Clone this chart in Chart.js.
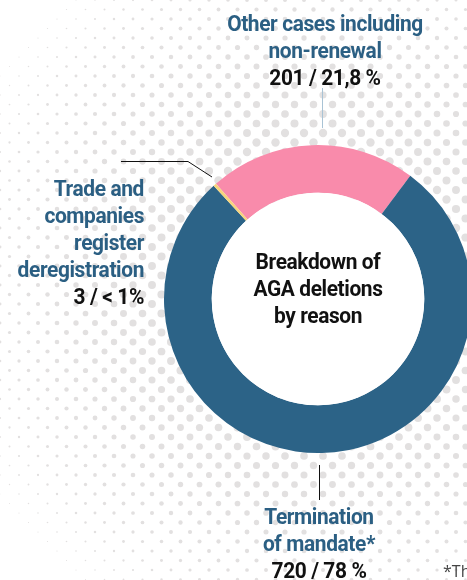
<!DOCTYPE html>
<html lang="en">
<head>
<meta charset="UTF-8">
<script src="https://cdn.jsdelivr.net/npm/chart.js@4.4.1/dist/chart.umd.min.js"></script>
<title>AGA deletions</title>
<style>
    body { margin:0; width:467px; height:580px; overflow:hidden; background:#fff; position:relative; }
    #wrap { position:absolute; left:0; top:0; width:480px; height:580px; }
    .lbl { position:absolute; font-family:Roboto,sans-serif; font-weight:bold; font-size:22px; line-height:27px; white-space:nowrap; letter-spacing:-0.4px; }
    .c { text-align:center; transform:scaleX(0.95); transform-origin:50% 0; }
    .r { text-align:right; transform:scaleX(0.95); transform-origin:100% 0; }
    .blue { color:#2b5f83; }
    .blk { color:#111; }
</style>
</head>
<body>
<div id="wrap"><canvas id="pie" width="480" height="580"></canvas></div>

<div class="lbl c" style="left:175px; top:10px; width:300px;">
    <div class="blue">Other cases including</div>
    <div class="blue">non-renewal</div>
    <div class="blk">201 / 21,8 %</div>
</div>

<div class="lbl r" style="left:0; top:175px; width:144px;">
    <div class="blue">Trade and</div>
    <div class="blue">companies</div>
    <div class="blue">register</div>
    <div class="blue">deregistration</div>
    <div class="blk">3 / &lt; 1%</div>
</div>

<div class="lbl c blk" style="left:168px; top:248px; width:300px;">
    <div>Breakdown of</div>
    <div>AGA deletions</div>
    <div>by reason</div>
</div>

<div class="lbl c" style="left:169px; top:503px; width:300px;">
    <div class="blue">Termination</div>
    <div class="blue">of mandate*</div>
    <div class="blk">720 / 78 %</div>
</div>

<div style="position:absolute; left:443px; top:560px; font-family:'Open Sans',sans-serif; font-size:16px; color:#444; white-space:nowrap;">*The</div>

<script>
var labels = ["Other cases including non-renewal", "Termination of mandate*", "Trade and companies register deregistration"];
var counts = [201, 720, 3];
var colors = ["#f98bab", "#2c6387", "#f6d47c"];

// halftone dots behind the ring, getting smaller away from it
var dotsPlugin = {
    id: 'dots',
    beforeDraw: function(chart) {
        var arc = chart.getDatasetMeta(0).data[0];
        var ctx = chart.ctx;
        var cx = arc.x, cy = arc.y - 15;
        ctx.save();
        ctx.fillStyle = "#e2e0e0";
        var sx = 19, sy = 9.5;
        for (var j = 0; j * sy < 600; j++) {
            var off = (j % 2) ? sx / 2 : 0;
            for (var i = -1; i * sx < 500; i++) {
                var x = i * sx + off, y = j * sy;
                var d = Math.sqrt((x - cx) * (x - cx) + (y - cy) * (y - cy));
                var r = 4.2 * (1 - Math.max(0, d - 150) / 260);
                if (r < 0.4) continue;
                ctx.beginPath();
                ctx.arc(x, y, r, 0, Math.PI * 2);
                ctx.fill();
            }
        }
        ctx.restore();
    },
    afterDatasetsDraw: function(chart) {
        var arc = chart.getDatasetMeta(0).data[0];
        var ctx = chart.ctx;
        var cx = arc.x, cy = arc.y, R = arc.outerRadius;
        ctx.save();
        ctx.fillStyle = "#fff";
        ctx.beginPath();
        ctx.arc(cx, cy, arc.innerRadius, 0, Math.PI * 2);
        ctx.fill();
        ctx.lineWidth = 1;
        // leader lines
        ctx.strokeStyle = "#a9c3d5";
        ctx.beginPath();
        ctx.moveTo(cx + 4.5, cy - R - 57);
        ctx.lineTo(cx + 4.5, cy - R - 17);
        ctx.stroke();
        ctx.strokeStyle = "#111";
        ctx.beginPath();
        ctx.moveTo(121, 161.5);
        ctx.lineTo(188, 161.5);
        ctx.lineTo(212, 177);
        ctx.stroke();
        ctx.beginPath();
        ctx.moveTo(cx + 1.5, cy + R + 12);
        ctx.lineTo(cx + 1.5, cy + R + 47);
        ctx.stroke();
        ctx.restore();
    }
};

new Chart(document.getElementById("pie"), {
    type: 'doughnut',
    data: {
        labels: labels,
        datasets: [{
            data: counts,
            backgroundColor: colors,
            borderWidth: 0
        }]
    },
    options: {
        responsive: false,
        animation: false,
        rotation: -41.5,
        cutout: '69%',
        layout: { padding: { left: 164, right: 8, top: 145, bottom: 127 } },
        plugins: {
            legend: { display: false },
            tooltip: { enabled: false }
        }
    },
    plugins: [dotsPlugin]
});
</script>
</body>
</html>
